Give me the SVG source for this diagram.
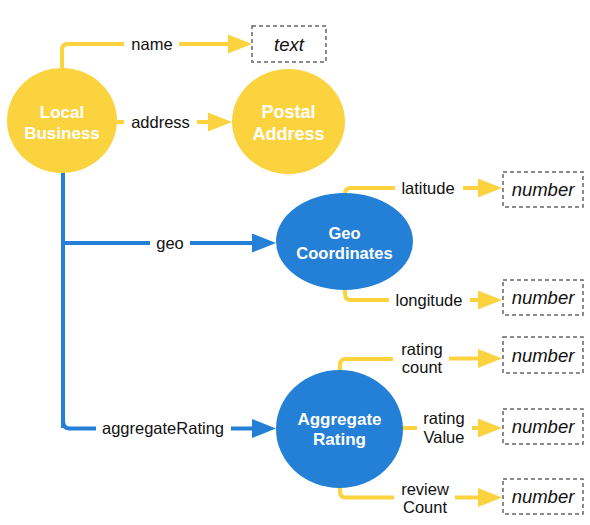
<svg xmlns="http://www.w3.org/2000/svg" width="590" height="525" viewBox="0 0 590 525">
<style>
.y{fill:none;stroke:#FBD33F;stroke-width:4;stroke-linejoin:round}
.b{fill:none;stroke:#2480D7;stroke-width:4;stroke-linejoin:round}
.ya{marker-end:url(#ay)}
.ba{marker-end:url(#ab)}
.lbl{font-family:"Liberation Sans",Arial,sans-serif;font-size:16.5px;fill:#111;text-anchor:middle}
.nt{font-family:"Liberation Sans",Arial,sans-serif;font-weight:bold;fill:#fff;text-anchor:middle}
.box{fill:#fff;stroke:#666;stroke-width:1.5;stroke-dasharray:4 3}
.bt{font-family:"Liberation Sans",Arial,sans-serif;font-style:italic;font-size:18.5px;fill:#111;text-anchor:middle}
</style>
<defs>
<marker id="ay" markerUnits="userSpaceOnUse" markerWidth="24" markerHeight="20" refX="0" refY="10" orient="auto"><path d="M0,0.5 L24,10 L0,19.5 Z" fill="#FBD33F"/></marker>
<marker id="ab" markerUnits="userSpaceOnUse" markerWidth="24" markerHeight="20" refX="0" refY="10" orient="auto"><path d="M0,0.5 L24,10 L0,19.5 Z" fill="#2480D7"/></marker>
</defs>
<g id="connectors">
<!-- name -->
<path class="y" d="M62,100 V50 Q62,44 68,44 H124"/>
<path class="y ya" d="M179,44 H228"/>
<text class="lbl" x="152" y="49.5">name</text>
<!-- address -->
<path class="y" d="M100,122 H124"/>
<path class="y ya" d="M197,122 H208"/>
<text class="lbl" x="160.5" y="127.5">address</text>
<!-- geo -->
<path class="b" d="M63,160 V428"/>
<path class="b" d="M63,243 H150"/>
<path class="b ba" d="M190,243 H252"/>
<text class="lbl" x="170" y="248.5">geo</text>
<!-- aggregateRating -->
<path class="b" d="M63,420 Q63,428.5 69,428.5 H96"/>
<path class="b ba" d="M231,428.5 H252"/>
<text class="lbl" x="163" y="434">aggregateRating</text>
<!-- latitude -->
<path class="y" d="M345,210 V194 Q345,188 351,188 H395"/>
<path class="y ya" d="M463,188 H478"/>
<text class="lbl" x="428" y="193.5">latitude</text>
<!-- longitude -->
<path class="y" d="M345,270 V294 Q345,300 351,300 H389"/>
<path class="y ya" d="M470,300 H478"/>
<text class="lbl" x="429" y="305.5">longitude</text>
<!-- rating count -->
<path class="y" d="M340,400 V365 Q340,359 346,359 H393"/>
<path class="y ya" d="M449,358.5 H478"/>
<text class="lbl" x="422" y="355">rating</text>
<text class="lbl" x="422" y="373">count</text>
<!-- rating Value -->
<path class="y" d="M380,428 H417"/>
<path class="y ya" d="M472,428 H478"/>
<text class="lbl" x="444" y="424">rating</text>
<text class="lbl" x="444" y="443">Value</text>
<!-- review Count -->
<path class="y" d="M340,470 V491.5 Q340,497.5 346,497.5 H394"/>
<path class="y ya" d="M455,497.5 H478"/>
<text class="lbl" x="425" y="495">review</text>
<text class="lbl" x="425" y="513">Count</text>
</g>
<g id="local-business">
<ellipse cx="62" cy="120.5" rx="55" ry="52.5" fill="#FBD33F"/>
<text class="nt" font-size="17" x="62" y="118">Local</text>
<text class="nt" font-size="17" x="62" y="139">Business</text>
</g>
<g id="postal-address">
<ellipse cx="288.5" cy="121.5" rx="56.5" ry="52.5" fill="#FBD33F"/>
<text class="nt" font-size="18" x="288.5" y="117.5">Postal</text>
<text class="nt" font-size="18" x="288.5" y="140">Address</text>
</g>
<g id="text-box">
<rect class="box" x="252" y="26" width="74" height="36"/>
<text class="bt" x="289" y="51">text</text>
</g>
<g id="geo-coordinates">
<ellipse cx="344.5" cy="241.5" rx="68.5" ry="48.5" fill="#2480D7"/>
<text class="nt" font-size="16.5" x="344.5" y="239">Geo</text>
<text class="nt" font-size="16.5" x="344.5" y="259">Coordinates</text>
</g>
<g id="latitude-box">
<rect class="box" x="503" y="172" width="80" height="35"/>
<text class="bt" x="543" y="196">number</text>
</g>
<g id="longitude-box">
<rect class="box" x="503" y="280" width="80" height="35"/>
<text class="bt" x="543" y="304">number</text>
</g>
<g id="aggregate-rating">
<ellipse cx="339.5" cy="429" rx="63.5" ry="59" fill="#2480D7"/>
<text class="nt" font-size="17" x="339.5" y="425">Aggregate</text>
<text class="nt" font-size="17" x="339.5" y="445">Rating</text>
</g>
<g id="rating-count-box">
<rect class="box" x="503" y="337" width="80" height="36"/>
<text class="bt" x="543" y="361.5">number</text>
</g>
<g id="rating-value-box">
<rect class="box" x="503" y="409" width="80" height="35"/>
<text class="bt" x="543" y="433">number</text>
</g>
<g id="review-count-box">
<rect class="box" x="503" y="479" width="80" height="35"/>
<text class="bt" x="543" y="503">number</text>
</g>
</svg>
